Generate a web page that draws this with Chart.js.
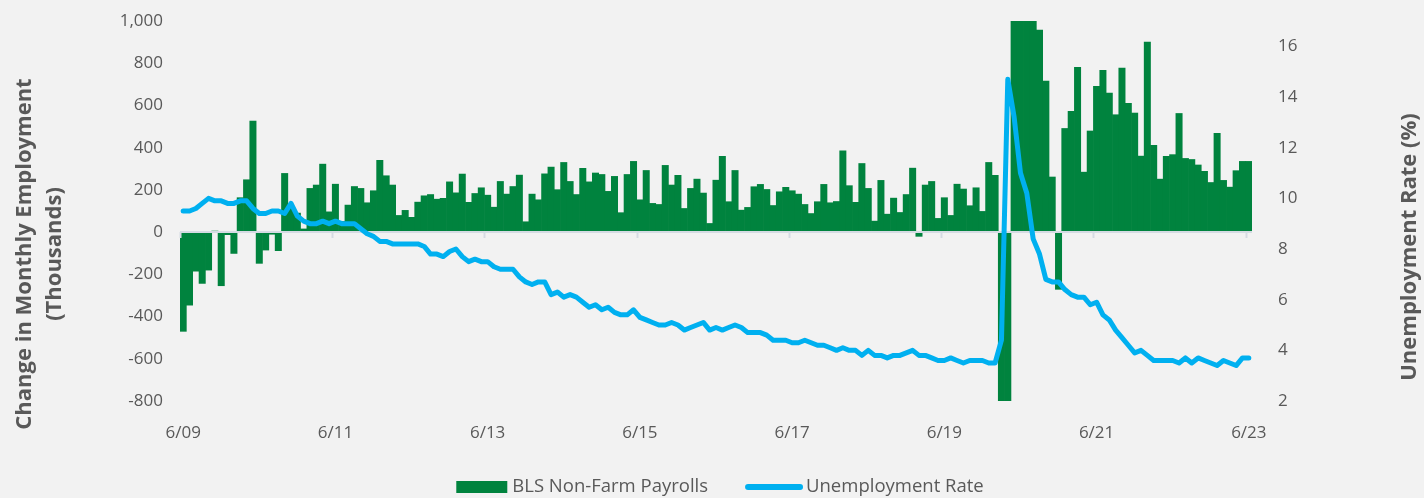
<!DOCTYPE html>
<html>
<head>
<meta charset="utf-8">
<title>Payrolls and Unemployment Rate</title>
<script src="https://cdn.jsdelivr.net/npm/chart.js@4.4.0/dist/chart.umd.min.js"></script>
<style>
  html, body { margin: 0; padding: 0; background: #f2f2f2; }
</style>
</head>
<body>
<canvas id="chart" width="1424" height="498"></canvas>
<script>
// monthly, 6/09 .. 6/23
var startYear = 2009, startMonth = 6, monthCount = 169;
var tickLabels = ['6/09', '6/11', '6/13', '6/15', '6/17', '6/19', '6/21', '6/23'];

// change in non-farm payrolls, thousands
var payrolls = [
  -470, -346, -185, -243, -180, 5, -254, -12, -101, 163, 248, 526,
  -148, -85, -10, -88, 278, 120, 90, 15, 207, 223, 322, 96,
  227, 50, 128, 216, 207, 139, 196, 340, 267, 223, 79, 103,
  70, 142, 172, 178, 156, 160, 238, 186, 275, 141, 183, 210,
  175, 118, 240, 180, 216, 270, 49, 180, 153, 276, 308, 201,
  330, 240, 178, 302, 238, 280, 273, 193, 264, 92, 273, 335,
  153, 292, 136, 131, 316, 223, 269, 112, 207, 251, 185, 41,
  246, 359, 144, 292, 104, 117, 215, 226, 202, 126, 191, 212,
  196, 180, 131, 88, 144, 226, 139, 145, 385, 220, 141, 325,
  207, 52, 245, 85, 161, 93, 178, 303, -20, 223, 240, 65,
  163, 79, 227, 204, 125, 210, 98, 330, 269, -1373, -20477, 2833,
  4846, 1726, 1583, 957, 716, 261, -271, 491, 572, 780, 284, 479,
  690, 766, 659, 556, 777, 610, 564, 360, 900, 411, 251, 359,
  367, 562, 349, 344, 318, 288, 235, 468, 245, 213, 291, 335, 335
];

// unemployment rate, %
var unemployment = [
  9.5, 9.5, 9.6, 9.8, 10.0, 9.9, 9.9,
  9.8, 9.8, 9.9, 9.9, 9.6, 9.4, 9.4, 9.5, 9.5, 9.4, 9.8, 9.3,
  9.1, 9.0, 9.0, 9.1, 9.0, 9.1, 9.0, 9.0, 9.0, 8.8, 8.6, 8.5,
  8.3, 8.3, 8.2, 8.2, 8.2, 8.2, 8.2, 8.1, 7.8, 7.8, 7.7, 7.9,
  8.0, 7.7, 7.5, 7.6, 7.5, 7.5, 7.3, 7.2, 7.2, 7.2, 6.9, 6.7,
  6.6, 6.7, 6.7, 6.2, 6.3, 6.1, 6.2, 6.1, 5.9, 5.7, 5.8, 5.6,
  5.7, 5.5, 5.4, 5.4, 5.6, 5.3, 5.2, 5.1, 5.0, 5.0, 5.1, 5.0,
  4.8, 4.9, 5.0, 5.1, 4.8, 4.9, 4.8, 4.9, 5.0, 4.9, 4.7, 4.7,
  4.7, 4.6, 4.4, 4.4, 4.4, 4.3, 4.3, 4.4, 4.3, 4.2, 4.2, 4.1,
  4.0, 4.1, 4.0, 4.0, 3.8, 4.0, 3.8, 3.8, 3.7, 3.8, 3.8, 3.9,
  4.0, 3.8, 3.8, 3.7, 3.6, 3.6, 3.7, 3.6, 3.5, 3.6, 3.6, 3.6,
  3.5, 3.5, 4.4, 14.7, 13.2, 11.0, 10.2, 8.4, 7.8, 6.8, 6.7, 6.7,
  6.4, 6.2, 6.1, 6.1, 5.8, 5.9, 5.4, 5.2, 4.8, 4.5, 4.2, 3.9,
  4.0, 3.8, 3.6, 3.6, 3.6, 3.6, 3.5, 3.7, 3.5, 3.7, 3.6, 3.5,
  3.4, 3.6, 3.5, 3.4, 3.7, 3.7
];

var rightTicks = [2, 4, 6, 8, 10, 12, 14, 16];
var leftTitle = ['Change in Monthly Employment', '(Thousands)'];
var rightTitle = 'Unemployment Rate (%)';
var barName = 'BLS Non-Farm Payrolls';
var lineName = 'Unemployment Rate';

var GREEN = '#00833e';
var BLUE = '#00b0f0';
var TEXT = '#595959';
var AXIS = '#d5dbe3';
var FONT = "'Open Sans', sans-serif";

var monthLabels = [];
for (var i = 0; i < monthCount; i++) {
  var m = (startMonth - 1 + i) % 12 + 1;
  var yr = startYear + Math.floor((startMonth - 1 + i) / 12);
  monthLabels.push(m + '/' + String(yr % 100).padStart(2, '0'));
}

// zero line with tick marks, titles and legend
var decor = {
  id: 'decor',
  afterDatasetDraw: function(chart, args) {
    if (args.index !== 0) return;
    var c = chart.ctx, a = chart.chartArea, xs = chart.scales.x;
    var y0 = chart.scales.y.getPixelForValue(0);
    var half = (xs.getPixelForValue(1) - xs.getPixelForValue(0)) / 2;
    c.save();
    c.strokeStyle = AXIS;
    c.lineWidth = 2;
    c.beginPath();
    c.moveTo(a.left, y0);
    c.lineTo(a.right, y0);
    for (var i = 0; i < monthCount; i += 24) {
      var px = Math.round(xs.getPixelForValue(i) - half) + 0.5;
      c.moveTo(px, y0);
      c.lineTo(px, y0 + 6);
    }
    c.stroke();
    c.restore();
  },
  afterDraw: function(chart) {
    var c = chart.ctx;
    c.save();
    c.fillStyle = TEXT;
    c.textAlign = 'center';
    c.textBaseline = 'middle';
    c.font = 'bold 22px ' + FONT;

    c.save();
    c.translate(25, 254);
    c.rotate(-Math.PI / 2);
    c.fillText(leftTitle[0], 0, 0);
    c.fillText(leftTitle[1], 0, 30);
    c.restore();

    c.save();
    c.translate(1410, 247);
    c.rotate(-Math.PI / 2);
    c.fillText(rightTitle, 0, 0);
    c.restore();

    // legend
    c.font = '18.5px ' + FONT;
    c.textAlign = 'left';
    var w1 = c.measureText(barName).width;
    var w2 = c.measureText(lineName).width;
    var total = 51 + 5 + w1 + 37 + 58 + 3 + w2;
    var x0 = 720 - total / 2, y = 487;
    c.fillStyle = GREEN;
    c.fillRect(x0, y - 6, 51, 12);
    c.fillStyle = TEXT;
    c.fillText(barName, x0 + 56, y);
    var lx = x0 + 56 + w1 + 37;
    c.strokeStyle = BLUE;
    c.lineWidth = 6;
    c.lineCap = 'round';
    c.beginPath();
    c.moveTo(lx + 3, y);
    c.lineTo(lx + 55, y);
    c.stroke();
    c.fillText(lineName, lx + 61, y);
    c.restore();
  }
};

// keep tick label overhang out of the layout so the plot spans the full height
function noVerticalPad(s) {
  s.paddingTop = 0;
  s.paddingBottom = 0;
}

var ctx = document.getElementById('chart');
var chart = new Chart(ctx, {
  data: {
    labels: monthLabels,
    datasets: [{
      type: 'bar',
      label: barName,
      data: payrolls,
      backgroundColor: GREEN,
      borderWidth: 0,
      categoryPercentage: 1,
      barPercentage: 1,
      yAxisID: 'y',
      clip: 0,
      order: 2
    }, {
      type: 'line',
      label: lineName,
      data: unemployment,
      borderColor: BLUE,
      borderWidth: 5,
      borderJoinStyle: 'round',
      borderCapStyle: 'round',
      pointRadius: 0,
      tension: 0,
      yAxisID: 'y2',
      clip: false,
      order: 1
    }]
  },
  options: {
    responsive: false,
    animation: false,
    layout: { padding: { top: 21, left: 0, right: 0, bottom: 0 } },
    plugins: { legend: { display: false }, tooltip: { enabled: false } },
    scales: {
      x: {
        offset: true,
        grid: { display: false, drawTicks: false },
        border: { display: false },
        ticks: {
          autoSkip: false,
          maxRotation: 0,
          padding: 22,
          color: TEXT,
          font: { family: FONT, size: 17 },
          callback: function(v, i) { return i % 24 === 0 ? tickLabels[i / 24] : ''; }
        },
        afterFit: function(s) { s.height = 97; }
      },
      y: {
        position: 'left',
        min: -800,
        max: 1000,
        grid: { display: false, drawTicks: false },
        border: { display: false },
        ticks: { stepSize: 200, padding: 17, color: TEXT, font: { family: FONT, size: 17 } },
        afterFit: function(s) { s.width = 180; noVerticalPad(s); }
      },
      y2: {
        position: 'right',
        min: 2,
        max: 17,
        grid: { display: false, drawTicks: false },
        border: { display: false },
        ticks: { padding: 26, color: TEXT, font: { family: FONT, size: 17 } },
        afterBuildTicks: function(s) { s.ticks = rightTicks.map(function(v) { return { value: v }; }); },
        afterFit: function(s) { s.width = 172; noVerticalPad(s); }
      }
    }
  },
  plugins: [decor]
});
</script>
</body>
</html>
